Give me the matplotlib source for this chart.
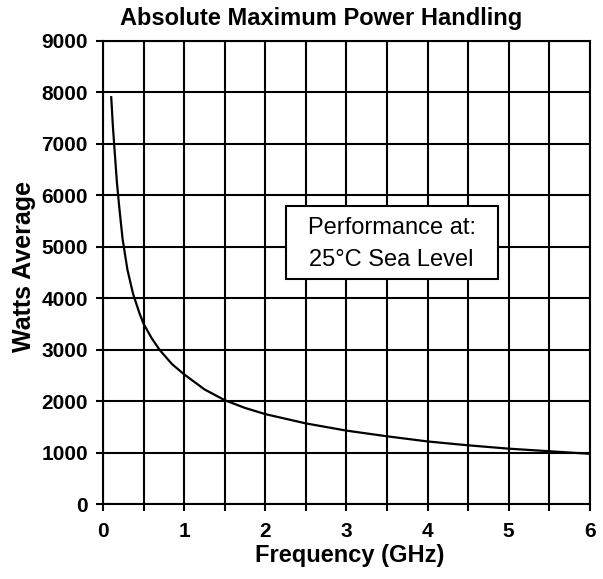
import matplotlib.pyplot as plt
from matplotlib.patches import Rectangle
from matplotlib.ticker import MultipleLocator

# Power handling
freq_ghz = [0.1, 0.12, 0.14, 0.17, 0.2, 0.24, 0.3, 0.37, 0.45, 0.5, 0.6, 0.7, 0.85,
            1.0, 1.25, 1.5, 1.75, 2.0, 2.5, 3.0, 3.5, 4.0, 4.5, 5.0, 5.5, 6.0]
watts_avg = [7900, 7350, 6900, 6250, 5750, 5150, 4550, 4080, 3700, 3500, 3220, 2990, 2720,
             2520, 2230, 2020, 1870, 1750, 1570, 1430, 1320, 1220, 1145, 1080, 1030, 980]

x_ticks = [0, 1, 2, 3, 4, 5, 6]
y_ticks = [0, 1000, 2000, 3000, 4000, 5000, 6000, 7000, 8000, 9000]

plt.rcParams['font.family'] = ['Liberation Sans', 'DejaVu Sans']

fig = plt.figure(figsize=(6.03, 5.79), dpi=100)
ax = fig.add_axes([0.171, 0.129, 0.807, 0.801])

ax.plot(freq_ghz, watts_avg, color='black', lw=1.6, zorder=3)

ax.set_xlim(0, 6)
ax.set_ylim(0, 9000)
ax.set_xticks(x_ticks)
ax.set_yticks(y_ticks)
ax.xaxis.set_minor_locator(MultipleLocator(0.5))

# grid on every major/minor position, black like the original
ax.grid(True, which='both', color='black', lw=1.5)
ax.set_axisbelow(True)
for s in ax.spines.values():
    s.set_linewidth(1.5)

ax.tick_params(which='both', direction='out', length=5, width=1.5, color='black')
ax.tick_params(axis='x', pad=8)
ax.tick_params(axis='y', pad=6)
for lab in ax.get_xticklabels() + ax.get_yticklabels():
    lab.set_fontsize(15)
    lab.set_fontweight('bold')

# note box
ax.add_patch(Rectangle((0.375, 0.485), 0.436, 0.158, transform=ax.transAxes,
                       facecolor='white', edgecolor='black', lw=1.5, zorder=4))
ax.text(0.593, 0.596, 'Performance at:', transform=ax.transAxes, ha='center',
        va='center', fontsize=17, zorder=5)
ax.text(0.593, 0.526, '25°C Sea Level', transform=ax.transAxes, ha='center',
        va='center', fontsize=17, zorder=5)

fig.text(0.533, 0.968, 'Absolute Maximum Power Handling', ha='center', va='center',
         fontsize=17, fontweight='bold')
fig.text(0.58, 0.041, 'Frequency (GHz)', ha='center', va='center',
         fontsize=17, fontweight='bold')
fig.text(0.040, 0.539, 'Watts Average', ha='center', va='center', rotation=90,
         fontsize=18, fontweight='bold')

fig.savefig('out.png', dpi=100)
